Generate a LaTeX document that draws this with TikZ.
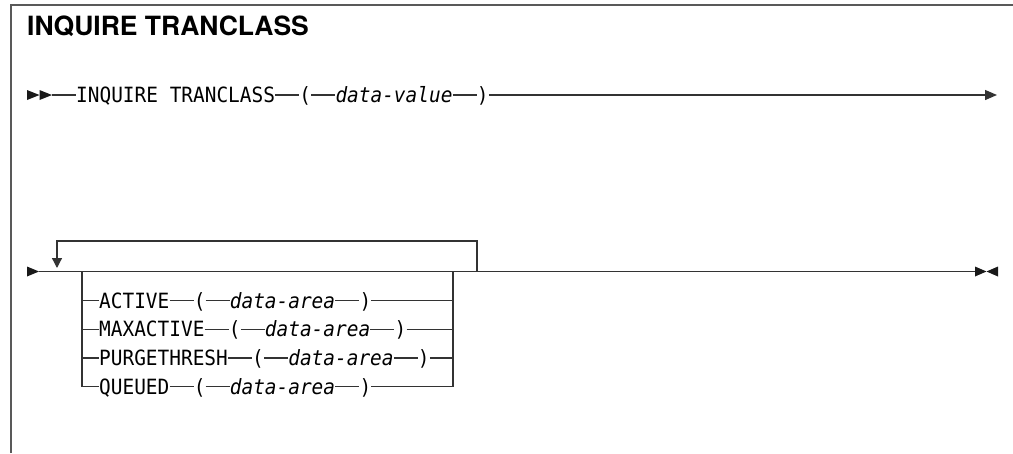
\documentclass[tikz,border=0pt]{standalone}
\usepackage{fontspec}
\setmainfont{TeX Gyre Heros}
\newfontfamily\kwfont[FakeStretch=0.925]{DejaVu Sans Mono}
\usetikzlibrary{positioning,arrows.meta}
\newcommand\synrow[5]{%
  \node[kw] (#1k) at (#2,#3) {#4};
  \node[kw, right=24pt of #1k] (#1o) {(};
  \node[var, right=24pt of #1o] (#1v) {#5};
  \node[kw, right=24pt of #1v] (#1c) {)};
  \draw[synline] (#1k.east) -- (#1o.west) (#1o.east) -- (#1v.west) (#1v.east) -- (#1c.west);
}
\begin{document}
\begin{tikzpicture}[x=1pt,y=-1pt]
\tikzset{
  kw/.style={inner sep=0pt, anchor=west, text height=15.3pt, text depth=0pt,
    font=\kwfont\fontsize{21}{21}\selectfont},
  var/.style={kw, font=\kwfont\itshape\fontsize{21}{21}\selectfont},
  synline/.style={draw=black!80, line width=1.3pt},
  tipfill/.style={fill=black!90},
  frameline/.style={draw=black!65, line width=1.5pt}
}
\useasboundingbox (0,0) rectangle (1013,453);
\fill[white] (0,0) rectangle (1013,453);
% frame
\draw[frameline] (11,453) -- (11,5) -- (1013,5);
% title
\node[anchor=base west, inner sep=0pt, font=\bfseries\fontsize{26.5}{26.5}\selectfont] (title) at (27,35) {INQUIRE TRANCLASS};

% ---------- line 1 ----------
\fill[tipfill] (27,90) -- (39.5,95) -- (27,100) -- cycle;
\fill[tipfill] (39.5,90) -- (52,95) -- (39.5,100) -- cycle;
\coordinate (s1) at (52,95);
\synrow{a}{76}{95}{INQUIRE TRANCLASS}{data-value}
\coordinate (e1) at (997,95);
\draw[synline] (s1) -- (ak.west);
\draw[synline, -{Triangle[length=12pt,width=10pt]}] (ac.east) -- (e1);

% ---------- line 2 ----------
\fill[tipfill] (27,266.5) -- (39,271.5) -- (27,276.5) -- cycle;
\coordinate (s2) at (39,271.5);
\coordinate (e2) at (975,271.5);
\draw[synline] (s2) -- (e2);
\fill[tipfill] (975,266.5) -- (986.5,271.5) -- (975,276.5) -- cycle;
\fill[tipfill] (998,266.5) -- (986.5,271.5) -- (998,276.5) -- cycle;
% repeat loop
\coordinate (lr) at (477,271.5);
\coordinate (lt) at (477,241);
\coordinate (ld) at (57,268);
\draw[synline, -{Triangle[length=10pt,width=10pt]}] (lr) -- (lt) -| (ld);
% choice block
\coordinate (cl) at (82,271.5);
\coordinate (cr) at (453,271.5);
\synrow{b}{99}{300.6}{ACTIVE}{data-area}
\synrow{c}{99}{329.3}{MAXACTIVE}{data-area}
\synrow{d}{99}{358.0}{PURGETHRESH}{data-area}
\synrow{q}{99}{386.7}{QUEUED}{data-area}
\draw[synline] (cl) |- (qk.west);
\draw[synline] (qc.east) -| (cr);
\foreach \r in {b,c,d}{
  \draw[synline] (\r k.west) -- (cl |- \r k.west);
  \draw[synline] (\r c.east) -- (cr |- \r c.east);
}
\end{tikzpicture}
\end{document}
